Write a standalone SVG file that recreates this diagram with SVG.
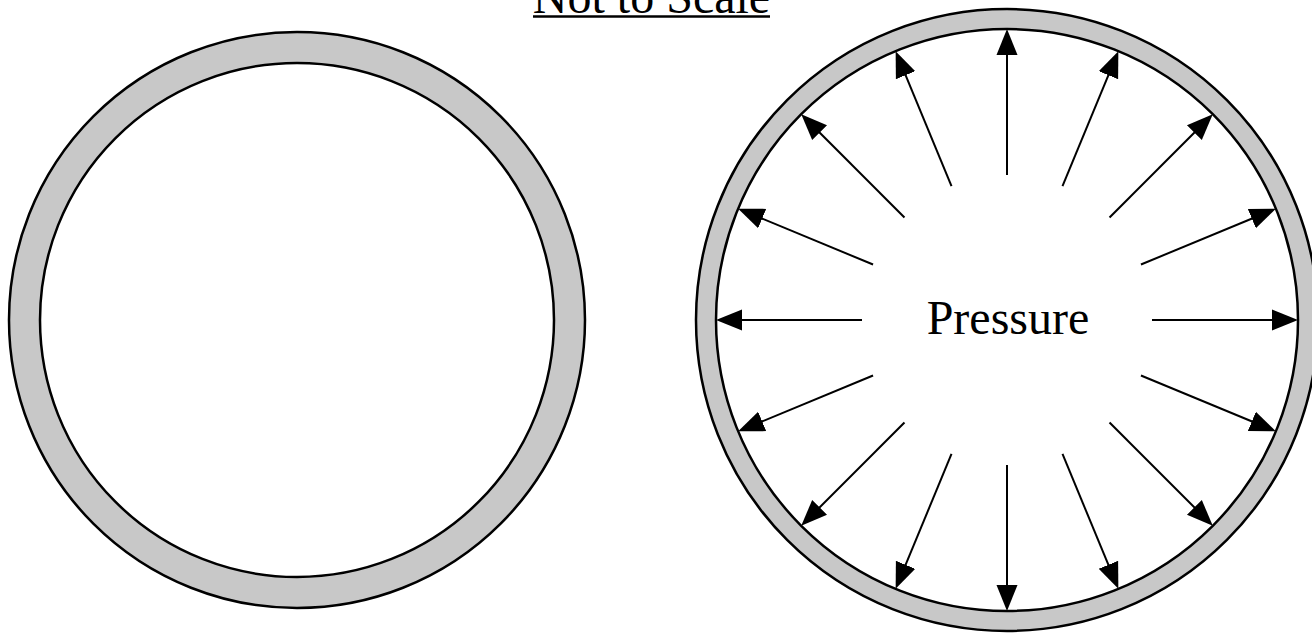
<svg xmlns="http://www.w3.org/2000/svg" width="1312" height="634" viewBox="0 0 1312 634">
<style>
.ring{fill:#c8c8c8;stroke:#000;stroke-width:2.5}
.hole{fill:#fff;stroke:#000;stroke-width:2.5}
.arr{stroke:#000;stroke-width:2;fill:none;marker-end:url(#ah)}
.t{font-family:"Liberation Serif","Times New Roman",serif;font-size:48px;fill:#000}
</style>
<defs>
<marker id="ah" markerUnits="userSpaceOnUse" markerWidth="28" markerHeight="24" viewBox="0 -12 28 24" refX="16" refY="0" orient="auto">
<path d="M0,-10.5 L26,0 L0,10.5 z" fill="#000"/>
</marker>
</defs>
<rect width="1312" height="634" fill="#fff"/>
<g id="title">
<text class="t" x="651.5" y="13" text-anchor="middle">Not to Scale</text>
<line x1="533" y1="16.5" x2="770" y2="16.5" stroke="#000" stroke-width="2.5"/>
</g>
<g id="unpressurized-pipe">
<circle class="ring" cx="297" cy="320" r="288"/>
<circle class="hole" cx="297" cy="320" r="257"/>
</g>
<g id="pressurized-pipe">
<circle class="ring" cx="1007" cy="320" r="311"/>
<circle class="hole" cx="1007" cy="320" r="291"/>
<text class="t" x="1008" y="334" text-anchor="middle">Pressure</text>
</g>
<g id="connectors">
<line class="arr" x1="1152" y1="320" x2="1288" y2="320"/>
<line class="arr" x1="1140.96" y1="264.51" x2="1266.61" y2="212.47"/>
<line class="arr" x1="1109.53" y1="217.47" x2="1205.70" y2="121.30"/>
<line class="arr" x1="1062.49" y1="186.04" x2="1114.53" y2="60.39"/>
<line class="arr" x1="1007" y1="175" x2="1007" y2="39"/>
<line class="arr" x1="951.51" y1="186.04" x2="899.47" y2="60.39"/>
<line class="arr" x1="904.47" y1="217.47" x2="808.30" y2="121.30"/>
<line class="arr" x1="873.04" y1="264.51" x2="747.39" y2="212.47"/>
<line class="arr" x1="862" y1="320" x2="726" y2="320"/>
<line class="arr" x1="873.04" y1="375.49" x2="747.39" y2="427.53"/>
<line class="arr" x1="904.47" y1="422.53" x2="808.30" y2="518.70"/>
<line class="arr" x1="951.51" y1="453.96" x2="899.47" y2="579.61"/>
<line class="arr" x1="1007" y1="465" x2="1007" y2="601"/>
<line class="arr" x1="1062.49" y1="453.96" x2="1114.53" y2="579.61"/>
<line class="arr" x1="1109.53" y1="422.53" x2="1205.70" y2="518.70"/>
<line class="arr" x1="1140.96" y1="375.49" x2="1266.61" y2="427.53"/>
</g>
</svg>
